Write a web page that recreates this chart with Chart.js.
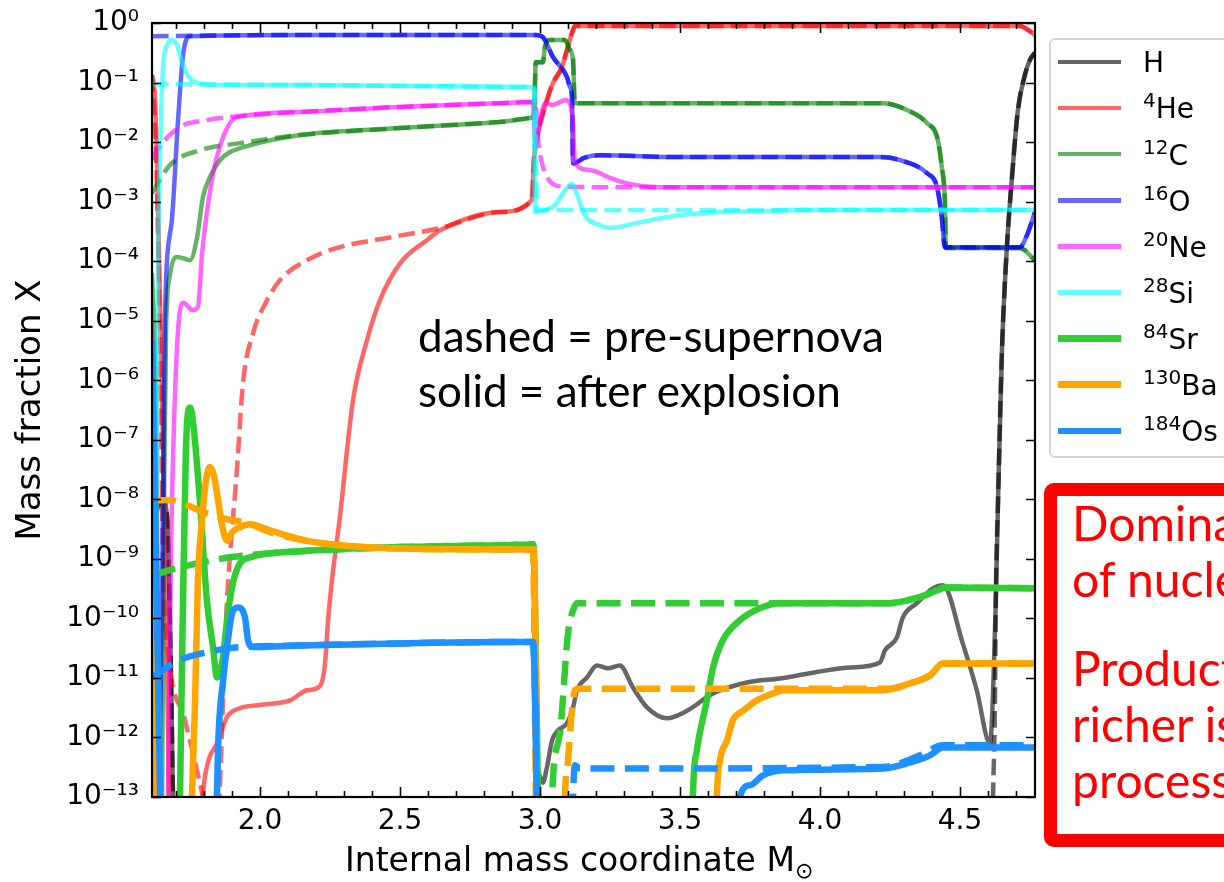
<!DOCTYPE html>
<html>
<head>
<meta charset="utf-8">
<script src="https://cdn.jsdelivr.net/npm/chart.js@4.4.0/dist/chart.umd.min.js"></script>
<style>
  html, body { margin: 0; padding: 0; background: #fff; width: 1224px; height: 882px; overflow: hidden; }
  #wrap { position: relative; width: 1224px; height: 882px; overflow: hidden; }
  #chart { position: absolute; left: 0; top: 0; }
  .xtitle { position: absolute; left: 345px; top: 840px; font: 33px 'DejaVu Sans'; line-height: 40px; color: #000; white-space: nowrap; }
  .xtitle span { font-size: 22px; position: relative; top: 7px; }
  .note { position: absolute; left: 418px; top: 308px; font: 44px Lato, 'Open Sans', sans-serif; line-height: 55px; color: #000; white-space: nowrap; }
  #legend { position: absolute; left: 1049px; top: 38px; width: 230px; height: 420px; border: 2px solid #d6d6d6; border-radius: 6px; background: #fff; box-sizing: border-box; }
  .lg-line { position: absolute; left: 1058px; width: 63px; }
  .lg-text { position: absolute; left: 1143px; font: 28px 'DejaVu Sans'; line-height: 34px; color: #000; white-space: nowrap; }
  .lg-text sup { font-size: 20px; vertical-align: 0; position: relative; top: -11px; }
  .redbox { position: absolute; left: 1044px; top: 483px; width: 330px; height: 364px; border: 13px solid #ff0000; border-radius: 10px; box-sizing: border-box; }
  .redtext { position: absolute; left: 1072px; font: 48px Lato, 'Open Sans', sans-serif; line-height: 56px; color: #ff0000; white-space: nowrap; }
</style>
</head>
<body>
<div id="wrap">
  <canvas id="chart" width="1224" height="882"></canvas>
  <div class="xtitle">Internal mass coordinate M<span>⊙</span></div>
  <div class="note">dashed = pre-supernova<br>solid = after explosion</div>
  <div id="legend"></div>
  <div class="redbox"></div>
  <div class="redtext" style="top:495px">Dominant<br>of nuclei</div>
  <div class="redtext" style="top:640px">Production<br>richer isotopes<br>processes</div>
</div>
<script>
// axes
const xTicks = [1.7, 1.8, 1.9, 2.0, 2.1, 2.2, 2.3, 2.4, 2.5, 2.6, 2.7, 2.8, 2.9, 3.0, 3.1, 3.2, 3.3, 3.4, 3.5, 3.6, 3.7, 3.8, 3.9, 4.0, 4.1, 4.2, 4.3, 4.4, 4.5, 4.6, 4.7];
const xLabels = [2.0, 2.5, 3.0, 3.5, 4.0, 4.5];
const yTicks = [1e-13, 1e-12, 1e-11, 1e-10, 1e-9, 1e-8, 1e-7, 1e-6, 1e-5, 1e-4, 1e-3, 1e-2, 1e-1, 1];

// isotopes
const elements = ['H', 'He', 'C', 'O', 'Ne', 'Si', 'Sr', 'Ba', 'Os'];
const massNumbers = ['', '4', '12', '16', '20', '28', '84', '130', '184'];

// [mass coordinate, mass fraction], dashed = pre-supernova, solid = after explosion
const hLeft = [[1.614, 3e-9], [1.65, 1e-8], [1.668, 5e-9], [1.682, 1e-11], [1.689, 1e-13], [1.70, 1e-15]];
const hPre = [[4.61, 1e-15], [4.618, 1e-13], [4.625, 4.2e-12], [4.628, 2e-10], [4.636, 9.6e-9], [4.65, 3.2e-6],
  [4.668, 1.86e-4], [4.685, 2.3e-3], [4.707, 0.0345], [4.732, 0.134], [4.75, 0.24], [4.768, 0.32]];
const hPost = [[2.98, 1e-15], [2.993, 2.5e-13], [3.01, 1.74e-13], [3.025, 3.2e-13], [3.043, 8.9e-13], [3.064, 1.32e-12],
  [3.096, 1.72e-12], [3.118, 3.2e-12], [3.132, 6.2e-12], [3.168, 1.02e-11], [3.203, 1.62e-11], [3.243, 1.45e-11],
  [3.285, 1.62e-11], [3.332, 6.9e-12], [3.382, 3.2e-12], [3.453, 2.1e-12], [3.525, 2.8e-12], [3.618, 5.5e-12],
  [3.739, 8.4e-12], [3.857, 9.8e-12], [4.107, 1.5e-11], [4.214, 1.82e-11], [4.232, 2.9e-11], [4.275, 4.8e-11],
  [4.296, 1.04e-10], [4.346, 1.8e-10], [4.403, 3.2e-10], [4.439, 3.6e-10], [4.51, 3.8e-11], [4.56, 6.2e-12],
  [4.607, 8e-13], [4.628, 2e-10], [4.636, 9.6e-9], [4.65, 3.2e-6], [4.668, 1.86e-4], [4.685, 2.3e-3],
  [4.707, 0.0345], [4.732, 0.134], [4.75, 0.24], [4.768, 0.32]];

const heOuter = [[2.857, 6.7e-4], [2.971, 1.06e-3], [2.978, 5e-3], [2.993, 0.0142], [3.025, 0.051], [3.046, 0.098],
  [3.078, 0.18], [3.096, 0.35], [3.114, 0.68], [3.125, 0.89], [4.714, 0.89], [4.768, 0.63]];
const hePre = [[1.614, 0.134], [1.628, 0.0073], [1.643, 3.2e-6], [1.653, 1e-9], [1.671, 3e-11], [1.732, 1.95e-12],
  [1.796, 1e-13], [1.84, 1e-14], [1.882, 2e-10], [1.918, 3.5e-8], [1.939, 8.9e-7], [1.975, 6.2e-6], [2.025, 2.2e-5],
  [2.071, 4.8e-5], [2.168, 1.04e-4], [2.285, 1.72e-4], [2.464, 2.5e-4], [2.643, 3.6e-4]];
const hePost = [[1.614, 0.134], [1.625, 0.051], [1.635, 1.06e-3], [1.65, 4.6e-7], [1.664, 2e-10], [1.675, 1e-13],
  [1.69, 1e-15], [1.78, 1e-15], [1.796, 1e-13], [1.81, 3.2e-13], [1.846, 8e-13], [1.882, 2.2e-12], [1.928, 3.1e-12],
  [2.0, 3.5e-12], [2.107, 4.2e-12], [2.168, 6.2e-12], [2.214, 7.3e-12], [2.232, 1.75e-11], [2.243, 9.3e-11],
  [2.257, 4.4e-10], [2.285, 5e-9], [2.332, 4.6e-7], [2.382, 4.7e-6], [2.428, 2.2e-5], [2.5, 9.2e-5], [2.596, 2.25e-4],
  [2.643, 3.3e-4]];

const cOuter = [[2.143, 0.0131], [2.5, 0.0172], [2.857, 0.0217], [2.964, 0.0253], [2.978, 0.029], [2.985, 0.22],
  [3.01, 0.22], [3.018, 0.4], [3.035, 0.52], [3.089, 0.52], [3.107, 0.35], [3.118, 0.24], [3.123, 0.05], [3.125, 0.045],
  [4.225, 0.045], [4.311, 0.0345], [4.382, 0.0209], [4.421, 0.0108], [4.435, 3.8e-3], [4.446, 1.06e-3],
  [4.45, 1.66e-4], [4.714, 1.66e-4], [4.768, 1.04e-4]];
const cPre = [[1.614, 1.39e-3], [1.678, 4.1e-3], [1.785, 7.3e-3], [1.928, 9.6e-3]];
const cPost = [[1.614, 6.3e-5], [1.628, 4.6e-7], [1.639, 1e-13], [1.645, 1e-15], [1.65, 1e-13], [1.657, 9.6e-9],
  [1.664, 6.9e-6], [1.678, 5.8e-5], [1.703, 1.17e-4], [1.725, 1.12e-4], [1.75, 1.04e-4], [1.775, 2.5e-4],
  [1.796, 1.19e-3], [1.821, 2.58e-3], [1.857, 5e-3], [1.893, 6.8e-3], [1.928, 7.9e-3]];

const oOuter = [[2.143, 0.63], [2.985, 0.63], [3.01, 0.58], [3.046, 0.27], [3.096, 0.124], [3.107, 0.084],
  [3.114, 0.057], [3.118, 4.4e-3], [3.16, 5.5e-3], [3.214, 6e-3], [3.5, 5.6e-3], [4.214, 5.6e-3], [4.285, 5e-3],
  [4.382, 3e-3], [4.418, 1.75e-3], [4.435, 5.5e-4], [4.446, 1.72e-4], [4.714, 1.72e-4], [4.739, 2.7e-4], [4.768, 6.7e-4]];
const oPre = [[1.614, 0.6]];
const oPost = [[1.614, 1e-15], [1.635, 1e-15], [1.639, 1e-13], [1.65, 2e-10], [1.66, 1.02e-5], [1.685, 4.9e-4],
  [1.707, 0.0234], [1.725, 0.29], [1.75, 0.6]];

const neMid = [[2.143, 0.032], [2.5, 0.039], [2.857, 0.045], [2.975, 0.047]];
const nePre = [[1.614, 5e-3], [1.625, 6.5e-3], [1.714, 0.0179], [1.81, 0.0234], [1.928, 0.0273]];
const neTailPre = [[2.985, 0.04], [2.993, 0.011], [3.007, 4.4e-3], [3.035, 2.2e-3], [3.078, 1.8e-3], [3.214, 1.75e-3],
  [4.768, 1.75e-3]];
const nePost = [[1.614, 6.9e-6], [1.628, 9.4e-10], [1.639, 1e-13], [1.645, 1e-15], [1.665, 1e-15], [1.671, 1e-13],
  [1.682, 1.4e-9], [1.693, 2.1e-7], [1.707, 6.9e-6], [1.725, 2e-5], [1.739, 1.82e-5], [1.757, 1.5e-5], [1.778, 1.7e-5],
  [1.793, 1.36e-4], [1.828, 2.3e-3], [1.868, 0.0121], [1.918, 0.0263]];
const neTailPost = [[2.982, 0.0108], [3.018, 0.045], [3.046, 0.042], [3.071, 0.047], [3.089, 0.051], [3.107, 0.045],
  [3.118, 0.0193], [3.125, 4.4e-3], [3.178, 3.4e-3], [3.25, 2.5e-3], [3.321, 1.97e-3], [3.428, 1.75e-3], [4.768, 1.75e-3]];

const siPre = [[1.614, 0.094], [2.143, 0.091], [2.964, 0.084], [2.982, 0.08], [2.989, 7.2e-4], [4.768, 7.2e-4]];
const siPost = [[1.614, 1e-15], [1.625, 1e-15], [1.628, 1e-13], [1.635, 2.2e-5], [1.643, 6.5e-3], [1.653, 0.16],
  [1.668, 0.43], [1.685, 0.52], [1.703, 0.43], [1.721, 0.22], [1.743, 0.129], [1.768, 0.102], [1.857, 0.091],
  [2.143, 0.091], [2.964, 0.084], [2.978, 0.08], [2.982, 6.7e-4], [3.018, 7.2e-4], [3.053, 8.7e-4], [3.078, 1.29e-3],
  [3.096, 1.7e-3], [3.114, 2e-3], [3.129, 1.44e-3], [3.16, 5.9e-4], [3.214, 4e-4], [3.25, 3.6e-4], [3.357, 4.5e-4],
  [3.5, 5.9e-4], [3.643, 6.7e-4], [3.785, 6.9e-4], [3.928, 7.2e-4], [4.768, 7.2e-4]];

const srPre = [[1.614, 5.3e-10], [1.714, 7.2e-10], [1.893, 1.06e-9], [2.143, 1.34e-9], [2.5, 1.58e-9], [2.857, 1.69e-9],
  [2.975, 1.75e-9], [2.989, 1e-13], [2.993, 1e-15], [3.035, 1e-15], [3.043, 1e-13], [3.071, 1.17e-12], [3.1, 5.6e-11],
  [3.118, 1.36e-10], [3.132, 1.8e-10], [4.25, 1.8e-10], [4.346, 2.2e-10], [4.418, 2.95e-10], [4.446, 3.3e-10],
  [4.768, 3.2e-10]];
const srPost = [[1.614, 1e-15], [1.71, 1e-15], [1.714, 1e-13], [1.725, 2e-10], [1.735, 6.6e-8], [1.75, 3.5e-7],
  [1.76, 2.1e-7], [1.785, 9.6e-9], [1.81, 2e-10], [1.832, 3.3e-11], [1.846, 1.02e-11], [1.864, 1.75e-11],
  [1.885, 1.21e-10], [1.903, 3.9e-10], [1.928, 8.4e-10], [1.964, 1.06e-9], [2.143, 1.34e-9], [2.5, 1.58e-9],
  [2.857, 1.69e-9], [2.975, 1.75e-9], [2.993, 1e-13], [3.0, 1e-15], [3.54, 1e-15], [3.546, 1e-13], [3.56, 6e-13],
  [3.596, 4.2e-12], [3.618, 1.5e-11], [3.653, 4.3e-11], [3.714, 9.3e-11], [3.785, 1.48e-10], [3.857, 1.8e-10],
  [4.25, 1.8e-10], [4.346, 2.2e-10], [4.418, 2.95e-10], [4.446, 3.3e-10], [4.768, 3.2e-10]];

const baPre = [[1.614, 9.6e-9], [1.685, 9.6e-9], [1.725, 8.5e-9], [1.81, 5.8e-9], [1.893, 4.5e-9], [1.953, 4e-9],
  [2.046, 2.7e-9], [2.168, 2e-9], [2.285, 1.69e-9], [2.464, 1.5e-9], [2.857, 1.44e-9], [2.975, 1.44e-9],
  [2.985, 1e-13], [2.99, 1e-15], [3.08, 1e-15], [3.089, 1e-13], [3.1, 4.1e-13], [3.114, 2.8e-12], [3.125, 6.2e-12],
  [3.136, 6.6e-12], [4.25, 6.6e-12], [4.321, 8.1e-12], [4.393, 1.1e-11], [4.439, 1.75e-11], [4.768, 1.75e-11]];
const baPost = [[1.614, 7.9e-9], [1.621, 2.9e-11], [1.628, 1e-13], [1.635, 1e-15], [1.75, 1e-15], [1.757, 1e-13],
  [1.768, 4.2e-12], [1.778, 4.4e-10], [1.793, 4.5e-9], [1.807, 2.1e-8], [1.821, 3.5e-8], [1.835, 2.5e-8],
  [1.85, 9.6e-9], [1.864, 3.7e-9], [1.882, 2e-9], [1.9, 2.8e-9], [1.928, 3.4e-9], [1.964, 3.8e-9], [2.035, 3e-9],
  [2.168, 2e-9], [2.285, 1.69e-9], [2.464, 1.5e-9], [2.857, 1.44e-9], [2.978, 1.44e-9], [2.989, 1e-13],
  [2.995, 1e-15], [3.625, 1e-15], [3.632, 1e-13], [3.643, 4.1e-13], [3.668, 8.9e-13], [3.689, 1.95e-12],
  [3.725, 2.8e-12], [3.775, 4.2e-12], [3.832, 5.5e-12], [3.868, 6.2e-12], [4.225, 6.2e-12], [4.321, 8.1e-12],
  [4.393, 1.1e-11], [4.439, 1.75e-11], [4.768, 1.75e-11]];

const osPre = [[1.614, 1.02e-11], [1.714, 2e-11], [1.81, 2.7e-11], [1.903, 3.2e-11], [2.143, 3.5e-11], [2.5, 3.8e-11],
  [2.857, 4e-11], [2.975, 4e-11], [2.989, 1e-13], [2.995, 1e-15], [3.11, 1e-15], [3.118, 1e-13], [3.125, 3.4e-13],
  [3.143, 3e-13], [4.225, 3.2e-13], [4.357, 5e-13], [4.439, 7.4e-13], [4.768, 7.4e-13]];
const osPost = [[1.614, 4.7e-6], [1.628, 1.39e-9], [1.639, 1.32e-12], [1.643, 1e-13], [1.65, 1e-15], [1.84, 1e-15],
  [1.846, 1e-13], [1.85, 6.8e-13], [1.868, 9.1e-12], [1.882, 3.3e-11], [1.9, 1.21e-10], [1.921, 1.53e-10],
  [1.946, 1.04e-10], [1.957, 4.3e-11], [1.971, 3.3e-11], [2.143, 3.5e-11], [2.5, 3.8e-11], [2.857, 4e-11],
  [2.975, 4e-11], [2.989, 1e-13], [2.995, 1e-15], [3.71, 1e-15], [3.714, 1e-13], [3.75, 1.58e-13], [3.796, 2.3e-13],
  [3.868, 2.8e-13], [4.225, 3e-13], [4.321, 3.8e-13], [4.393, 5e-13], [4.439, 6.8e-13], [4.768, 6.8e-13]];

const preSeries = [hLeft.concat(hPre), hePre.concat(heOuter), cPre.concat(cOuter), oPre.concat(oOuter),
  nePre.concat(neMid, neTailPre), siPre, srPre, baPre, osPre];
const postSeries = [hLeft.concat(hPost), hePost.concat(heOuter), cPost.concat(cOuter), oPost.concat(oOuter),
  nePost.concat(neMid, neTailPost), siPost, srPost, baPost, osPost];

// styles
const colors = ['rgba(0,0,0,0.6)', 'rgba(255,0,0,0.6)', 'rgba(0,128,0,0.6)', 'rgba(0,0,255,0.6)',
  'rgba(255,0,255,0.6)', 'rgba(0,255,255,0.6)', '#32cd32', '#ffa500', '#1e90ff'];
const widths = [4.5, 4.5, 4.5, 4.5, 4.5, 4.5, 6.5, 6.5, 6.5];

const supMap = { '-': '⁻', '0': '⁰', '1': '¹', '2': '²', '3': '³', '4': '⁴', '5': '⁵', '6': '⁶', '7': '⁷', '8': '⁸', '9': '⁹' };
const sup = s => String(s).split('').map(c => supMap[c] || c).join('');

const datasets = [];
elements.forEach((el, i) => {
  const label = sup(massNumbers[i]) + el;
  datasets.push({
    label: label + ' pre',
    data: preSeries[i].map(p => ({ x: p[0], y: p[1] })),
    borderColor: colors[i], borderWidth: widths[i],
    borderDash: [3.7 * widths[i], 1.6 * widths[i]],
    order: -2 * i
  });
  datasets.push({
    label: label,
    data: postSeries[i].map(p => ({ x: p[0], y: p[1] })),
    borderColor: colors[i], borderWidth: widths[i],
    order: -2 * i - 1
  });
});

// legend
const wrap = document.getElementById('wrap');
elements.forEach((el, i) => {
  const cy = 62 + i * 46.1;
  const line = document.createElement('div');
  line.className = 'lg-line';
  line.style.top = (cy - widths[i] / 2) + 'px';
  line.style.height = widths[i] + 'px';
  line.style.background = colors[i];
  wrap.appendChild(line);
  const txt = document.createElement('div');
  txt.className = 'lg-text';
  txt.style.top = (cy - 15.7) + 'px';
  txt.innerHTML = (massNumbers[i] ? '<sup>' + massNumbers[i] + '</sup>' : '') + el;
  wrap.appendChild(txt);
});

// box and inward ticks like the original
const framePlugin = {
  id: 'frame',
  afterDatasetsDraw(chart) {
    const { ctx, chartArea: a, scales: { x, y } } = chart;
    ctx.save();
    ctx.strokeStyle = '#000';
    ctx.lineWidth = 1.6;
    ctx.beginPath();
    xTicks.forEach(v => {
      const px = Math.round(x.getPixelForValue(v)) + 0.5;
      const len = xLabels.some(l => Math.abs(l - v) < 1e-9) ? 10 : 6;
      ctx.moveTo(px, a.bottom); ctx.lineTo(px, a.bottom - len);
      ctx.moveTo(px, a.top); ctx.lineTo(px, a.top + len);
    });
    yTicks.forEach(v => {
      const py = Math.round(y.getPixelForValue(v)) + 0.5;
      ctx.moveTo(a.left, py); ctx.lineTo(a.left + 9, py);
      ctx.moveTo(a.right, py); ctx.lineTo(a.right - 9, py);
    });
    ctx.stroke();
    ctx.lineWidth = 2.2;
    ctx.strokeRect(a.left, a.top, a.right - a.left, a.bottom - a.top);
    ctx.restore();
  }
};

const tickFont = { family: 'DejaVu Sans', size: 28 };

new Chart(document.getElementById('chart'), {
  type: 'line',
  data: { datasets },
  options: {
    responsive: false,
    animation: false,
    devicePixelRatio: 1,
    layout: { padding: { left: 0, right: 189, top: 23, bottom: 0 } },
    plugins: { legend: { display: false }, tooltip: { enabled: false } },
    elements: { point: { radius: 0 }, line: { cubicInterpolationMode: 'monotone', fill: false } },
    scales: {
      x: {
        type: 'linear', min: 1.614, max: 4.768,
        grid: { display: false, drawTicks: false },
        border: { display: false },
        afterBuildTicks: s => { s.ticks = xTicks.map(v => ({ value: v })); },
        afterFit: s => { s.height = 85; s.paddingLeft = 0; s.paddingRight = 0; },
        ticks: {
          autoSkip: false, maxRotation: 0, padding: 8, color: '#000', font: tickFont,
          callback: v => xLabels.some(l => Math.abs(l - v) < 1e-9) ? v.toFixed(1) : ''
        }
      },
      y: {
        type: 'logarithmic', min: 1e-13, max: 1,
        grid: { display: false, drawTicks: false },
        border: { display: false },
        afterBuildTicks: s => { s.ticks = yTicks.map(v => ({ value: v })); },
        afterFit: s => { s.width = 152; s.paddingTop = 0; s.paddingBottom = 0; },
        ticks: {
          autoSkip: false, padding: 13, color: '#000', font: tickFont,
          callback: v => '10' + sup(Math.round(Math.log10(v)))
        },
        title: {
          display: true, text: 'Mass fraction X', color: '#000',
          font: { family: 'DejaVu Sans', size: 34 },
          padding: { top: 11, bottom: 0 }
        }
      }
    }
  },
  plugins: [framePlugin]
});
</script>
</body>
</html>
